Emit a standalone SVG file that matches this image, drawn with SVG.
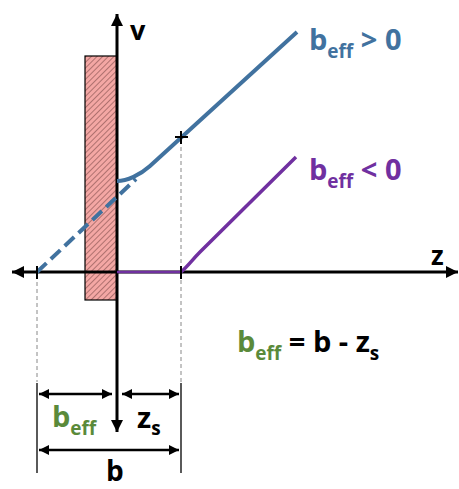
<svg xmlns="http://www.w3.org/2000/svg" width="459" height="489" viewBox="0 0 459 489">
<style>
.t{font-family:"Open Sans","Liberation Sans",sans-serif;font-weight:bold}
.ax{stroke:#000;stroke-width:3;fill:none}
.dim{stroke:#000;stroke-width:2.5;fill:none}
.ext{stroke:#000;stroke-width:1.3;fill:none}
.guide{stroke:#888;stroke-width:1;stroke-dasharray:4 3;fill:none}
.blue{stroke:#41729f;stroke-width:4;fill:none}
.purple{stroke:#7030a0;stroke-width:3.5;fill:none}
</style>
<defs>
<pattern id="hatch" patternUnits="userSpaceOnUse" width="4" height="4" patternTransform="rotate(45)">
<rect width="4" height="4" fill="#f4a7a4"/>
<line x1="0" y1="0" x2="0" y2="4" stroke="#6b3b3b" stroke-width="1"/>
</pattern>
<marker id="ah" viewBox="0 0 10 10" refX="10" refY="5" markerWidth="4" markerHeight="4" orient="auto-start-reverse" markerUnits="strokeWidth">
<path d="M0,0 L10,5 L0,10 z" fill="#000"/>
</marker>
</defs>
<g id="wall"><rect x="85" y="56" width="32" height="244" fill="url(#hatch)" stroke="#000" stroke-width="1.2"/></g>
<g id="connectors">
<line class="guide" x1="181" y1="140" x2="181" y2="382"/>
<line class="guide" x1="37" y1="275" x2="37" y2="382"/>
<line class="ext" x1="37" y1="383" x2="37" y2="473"/>
<line class="ext" x1="181" y1="383" x2="181" y2="473"/>
<line class="ax" x1="117" y1="432" x2="117" y2="14" marker-start="url(#ah)" marker-end="url(#ah)"/>
<line class="ax" x1="12" y1="272" x2="458" y2="272" marker-start="url(#ah)" marker-end="url(#ah)"/>
<line class="dim" x1="39" y1="394" x2="112" y2="394" marker-start="url(#ah)" marker-end="url(#ah)"/>
<line class="dim" x1="122" y1="394" x2="179" y2="394" marker-start="url(#ah)" marker-end="url(#ah)"/>
<line class="dim" x1="39" y1="450" x2="179" y2="450" marker-start="url(#ah)" marker-end="url(#ah)"/>
<line class="blue" x1="37" y1="272" x2="136" y2="179" stroke-dasharray="13 6"/>
<path class="blue" d="M117,181 C127,181 140,175 150,166 L297,32"/>
<path d="M117,272 L181,272" stroke="#7030a0" stroke-width="2.5" fill="none"/>
<path class="purple" d="M181,272 C188,266 192,260 200,252 L296,157"/>
<path d="M175,137 h13 M181,131 v13" stroke="#000" stroke-width="2" fill="none"/>
<line x1="181" y1="266" x2="181" y2="279" stroke="#000" stroke-width="2"/>
<line x1="37" y1="266" x2="37" y2="279" stroke="#000" stroke-width="2"/>
</g>
<g id="labels">
<text class="t" x="130" y="40" font-size="27">v</text>
<text class="t" x="431" y="265" font-size="26">z</text>
<text class="t" x="309" y="50" font-size="29" fill="#41729f">b<tspan font-size="19" dy="8">eff</tspan><tspan dy="-8"> &gt; 0</tspan></text>
<text class="t" x="309" y="180" font-size="29" fill="#7030a0">b<tspan font-size="19" dy="8">eff</tspan><tspan dy="-8"> &lt; 0</tspan></text>
<text class="t" x="237" y="352" font-size="29" fill="#000"><tspan fill="#5a8a3a">b<tspan font-size="19" dy="8">eff</tspan></tspan><tspan dy="-8"> = b - z</tspan><tspan font-size="19" dy="8">s</tspan></text>
<text class="t" x="52" y="427" font-size="29" fill="#5a8a3a">b<tspan font-size="19" dy="8">eff</tspan></text>
<text class="t" x="137" y="428" font-size="29" fill="#000">z<tspan font-size="19" dy="7">s</tspan></text>
<text class="t" x="106" y="481" font-size="28" fill="#000">b</text>
</g>
</svg>
